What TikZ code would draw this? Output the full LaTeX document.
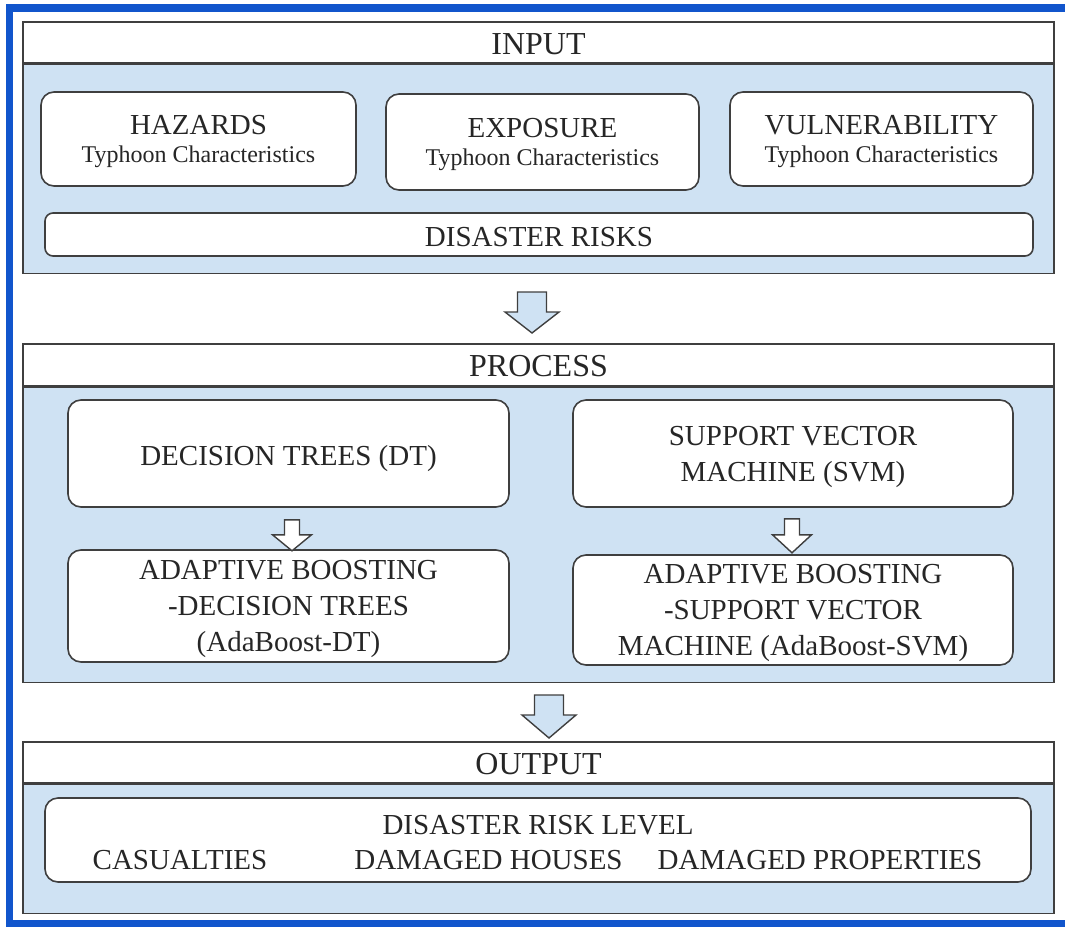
\documentclass[tikz,border=0pt]{standalone}
\usepackage{fontspec}
\setmainfont{Liberation Serif}
\usepackage{xcolor}
\usetikzlibrary{positioning,calc}

\definecolor{frameblue}{HTML}{1155CC}
\definecolor{panelblue}{HTML}{CFE2F3}
\definecolor{edgegray}{HTML}{3F3F3F}
\definecolor{textgray}{HTML}{262626}

\newcommand{\headfont}{\fontsize{32}{36}\selectfont}
\newcommand{\boxfont}{\fontsize{29}{36}\selectfont}
\newcommand{\subfont}{\fontsize{24}{28}\selectfont}

% block arrow pointing down: options, top point, half shaft, half head, shaft length, head length
\newcommand{\blockarrow}[6][]{%
  \draw[#1] (#2) ++(-#3,0) -- ++(2*#3,0) -- ++(0,#5) -- ++({#4-#3},0)
    -- ++(-#4,#6) -- ++(-#4,-#6) -- ++({#4-#3},0) -- cycle;}

\begin{document}
\begin{tikzpicture}[x=1pt, y=-1pt,
    textdrop/.style={text depth=0pt, execute at begin node={\rule{0pt}{#1}}},
    panelhead/.style={draw=edgegray, line width=1.5pt, fill=white, minimum width=1031pt,
      inner sep=0pt, font=\headfont, text=textgray, textdrop=23pt},
    panelbody/.style={draw=edgegray, line width=1.5pt, fill=panelblue, minimum width=1031pt,
      inner sep=0pt},
    card/.style={draw=edgegray, line width=1.6pt, fill=white, rounded corners=13pt,
      inner sep=0pt, align=center, font=\boxfont, text=textgray},
    itembox/.style={card, textdrop=24pt},
    riskbox/.style={card, rounded corners=8pt, textdrop=24pt},
    infobox/.style={card, font=\subfont, textdrop=23pt},
    plaintext/.style={anchor=base, inner sep=0pt, font=\boxfont, text=textgray},
    bigarrow/.style={draw=edgegray, line width=1.4pt, fill=panelblue},
    smallarrow/.style={draw=edgegray, line width=1.4pt, fill=white}]

  \useasboundingbox (0,0) rectangle (1065,926);
  % outer frame
  \draw[frameblue, line width=7.5pt] (9.5,8) rectangle (1085,923.5);

  % INPUT
  \node[panelhead, minimum height=41pt] (inhead) at (538.5,42.5) {INPUT};
  \node[panelbody, minimum height=209pt, below=0pt of inhead] (inbody) {};
  \node[infobox, minimum width=315pt, minimum height=94pt] (hazards) at (198.5,139)
    {{\boxfont HAZARDS}\\Typhoon Characteristics};
  \node[infobox, minimum width=313pt, minimum height=96pt] (exposure) at (542.5,142)
    {{\boxfont EXPOSURE}\\Typhoon Characteristics};
  \node[infobox, minimum width=303pt, minimum height=94pt] (vulnerability) at (881.5,139)
    {{\boxfont VULNERABILITY}\\Typhoon Characteristics};
  \node[riskbox, minimum width=988pt, minimum height=43pt] (risks) at (539,234.5)
    {DISASTER RISKS};

  \coordinate (arrowin) at (532,292);
  \blockarrow[bigarrow]{arrowin}{14.5}{27}{20}{21}

  % PROCESS
  \node[panelhead, minimum height=42pt] (prochead) at (538.5,365) {PROCESS};
  \node[panelbody, minimum height=295pt, below=0pt of prochead] (procbody) {};
  \node[itembox, minimum width=441pt, minimum height=107pt] (dt) at (288.5,453.5)
    {DECISION TREES (DT)};
  \node[itembox, minimum width=440pt, minimum height=107pt] (svm) at (793,453.5)
    {SUPPORT VECTOR\\MACHINE (SVM)};
  \node[itembox, minimum width=441pt, minimum height=112pt] (adadt) at (288.5,606)
    {ADAPTIVE BOOSTING\\-DECISION TREES\\(AdaBoost-DT)};
  \node[itembox, minimum width=440pt, minimum height=110pt] (adasvm) at (793,610)
    {ADAPTIVE BOOSTING\\-SUPPORT VECTOR\\MACHINE (AdaBoost-SVM)};

  \coordinate (arrowdt) at ($(dt.south -| 292,0)+(0,12)$);
  \coordinate (arrowsvm) at ($(svm.south -| 792,0)+(0,11)$);
  \blockarrow[smallarrow]{arrowdt}{7.5}{19.5}{15}{16}
  \blockarrow[smallarrow]{arrowsvm}{7.5}{19.5}{16}{18}

  \coordinate (arrowout) at (549,695);
  \blockarrow[bigarrow]{arrowout}{14.5}{27}{20}{23}

  % OUTPUT
  \node[panelhead, minimum height=41pt] (outhead) at (538.5,762.5) {OUTPUT};
  \node[panelbody, minimum height=129pt, below=0pt of outhead] (outbody) {};
  \node[card, minimum width=986pt, minimum height=84pt] (outbox) at (538,840) {};
  \node[plaintext] (level) at (538,834) {DISASTER RISK LEVEL};
  \node[plaintext] (casualties) at (180,869) {CASUALTIES};
  \node[plaintext] (houses) at (488.5,869) {DAMAGED HOUSES};
  \node[plaintext] (properties) at (820,869) {DAMAGED PROPERTIES};
\end{tikzpicture}
\end{document}
